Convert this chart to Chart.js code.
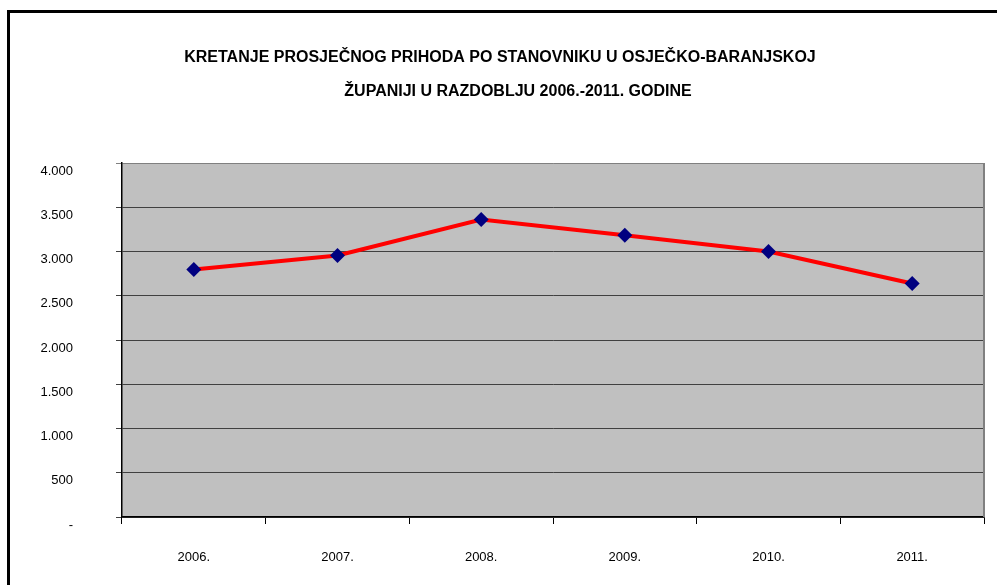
<!DOCTYPE html>
<html>
<head>
<meta charset="utf-8">
<script src="https://cdn.jsdelivr.net/npm/chart.js@4"></script>
<style>
  html, body { margin: 0; padding: 0; background: #fff; overflow: hidden; }
  #wrap { width: 997px; height: 585px; position: relative; }
</style>
</head>
<body>
<div id="wrap"><canvas id="incomeChart"></canvas></div>
<script>
const years = ['2006.', '2007.', '2008.', '2009.', '2010.', '2011.'];
const avgIncome = [2797, 2955, 3361, 3184, 3000, 2639];
const titleLines = [
    'KRETANJE PROSJEČNOG PRIHODA PO STANOVNIKU U OSJEČKO-BARANJSKOJ',
    'ŽUPANIJI U RAZDOBLJU 2006.-2011. GODINE'
];

function formatThousands(v) {
    if (v === 0) return '-';
    return String(v).replace(/\B(?=(\d{3})+(?!\d))/g, '.');
}

// grey plot area, outer frame and the two title lines
const excelLook = {
    id: 'excelLook',
    beforeDraw(chart) {
        const ctx = chart.ctx;
        const a = chart.chartArea;
        ctx.save();
        ctx.fillStyle = '#fff';
        ctx.fillRect(0, 0, chart.width, chart.height);
        ctx.fillStyle = '#C0C0C0';
        ctx.fillRect(a.left, a.top, a.right - a.left, a.bottom - a.top);

        ctx.strokeStyle = '#000';
        ctx.lineWidth = 3;
        ctx.beginPath();
        ctx.moveTo(8.5, chart.height + 5);
        ctx.lineTo(8.5, 11.5);
        ctx.lineTo(chart.width + 5, 11.5);
        ctx.stroke();

        ctx.fillStyle = '#000';
        ctx.font = 'bold 16px "Liberation Sans", Arial, sans-serif';
        ctx.textAlign = 'center';
        ctx.textBaseline = 'middle';
        ctx.fillText(titleLines[0], 500, 58);
        ctx.fillText(titleLines[1], 518, 92);
        ctx.restore();
    },
    beforeDatasetsDraw(chart) {
        const ctx = chart.ctx;
        const a = chart.chartArea;
        ctx.save();
        ctx.strokeStyle = '#808080';
        ctx.lineWidth = 2;
        ctx.beginPath();
        ctx.moveTo(a.right, a.top);
        ctx.lineTo(a.right, a.bottom);
        ctx.stroke();
        ctx.restore();
    }
};

const ctx = document.getElementById('incomeChart').getContext('2d');
new Chart(ctx, {
    type: 'line',
    data: {
        labels: years,
        datasets: [{
            data: avgIncome,
            borderColor: '#FF0000',
            borderWidth: 4,
            pointStyle: 'rectRot',
            pointRadius: 7.5,
            pointBorderWidth: 0,
            pointBackgroundColor: '#000080',
            pointBorderColor: '#000080',
            tension: 0
        }]
    },
    options: {
        responsive: true,
        maintainAspectRatio: false,
        animation: false,
        layout: {
            padding: { top: 163, right: 13, left: 0, bottom: 0 }
        },
        plugins: {
            legend: { display: false },
            title: { display: false },
            tooltip: { enabled: false }
        },
        scales: {
            x: {
                offset: true,
                grid: {
                    offset: true,
                    drawOnChartArea: false,
                    color: '#000',
                    tickLength: 7
                },
                border: { color: '#000', width: 1.5 },
                ticks: {
                    color: '#000',
                    padding: 26,
                    maxRotation: 0,
                    font: { family: '"Liberation Sans", Arial, sans-serif', size: 13 }
                },
                afterFit(scale) { scale.height = 68; }
            },
            y: {
                min: 0,
                max: 4000,
                ticks: {
                    stepSize: 500,
                    color: '#000',
                    padding: 43,
                    labelOffset: 8,
                    font: { family: '"Liberation Sans", Arial, sans-serif', size: 13 },
                    callback: value => formatThousands(value)
                },
                grid: {
                    color: c => (c.tick && c.tick.value === 4000) ? '#808080' : '#404040',
                    lineWidth: 1,
                    tickLength: 6
                },
                border: { color: '#000', width: 1.5 },
                afterFit(scale) { scale.width = 122; }
            }
        }
    },
    plugins: [excelLook]
});
</script>
</body>
</html>
